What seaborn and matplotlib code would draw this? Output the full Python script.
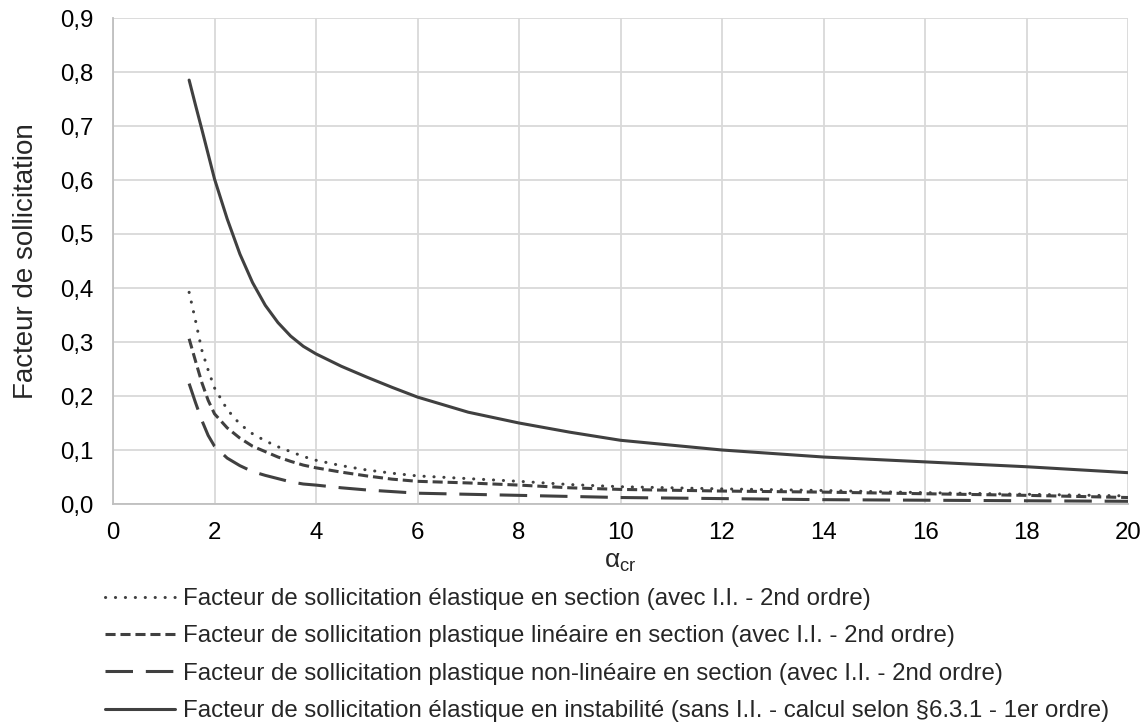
import matplotlib
matplotlib.use('Agg')
import matplotlib.pyplot as plt
import pandas as pd
import seaborn as sns
from matplotlib.ticker import FuncFormatter, MultipleLocator

# values
alpha_cr = [1.5, 1.625, 1.75, 1.875, 2, 2.25, 2.5, 2.75, 3, 3.25, 3.5, 3.75, 4,
            4.5, 5, 5.5, 6, 7, 8, 9, 10, 12, 14, 16, 18, 20]

elast_section = [0.392, 0.34, 0.285, 0.248, 0.215, 0.175, 0.148, 0.13, 0.117, 0.106, 0.097,
                 0.088, 0.081, 0.071, 0.063, 0.057, 0.052, 0.047, 0.042, 0.036, 0.032,
                 0.028, 0.025, 0.021, 0.018, 0.015]
plast_lin = [0.306, 0.265, 0.225, 0.192, 0.167, 0.141, 0.122, 0.107, 0.097, 0.087, 0.079,
             0.072, 0.067, 0.059, 0.052, 0.046, 0.042, 0.039, 0.035, 0.03, 0.027,
             0.024, 0.022, 0.019, 0.016, 0.012]
plast_nonlin = [0.223, 0.188, 0.155, 0.127, 0.107, 0.085, 0.071, 0.06, 0.053, 0.047, 0.041,
                0.037, 0.035, 0.03, 0.026, 0.023, 0.02, 0.018, 0.016, 0.014, 0.012,
                0.01, 0.008, 0.007, 0.006, 0.005]
elast_instab = [0.785, 0.739, 0.694, 0.648, 0.602, 0.528, 0.463, 0.41, 0.368, 0.336, 0.311,
                0.292, 0.278, 0.255, 0.235, 0.216, 0.198, 0.17, 0.15, 0.133, 0.118,
                0.1, 0.087, 0.078, 0.069, 0.058]

labels = [
    "Facteur de sollicitation élastique en section (avec I.I. - 2nd ordre)",
    "Facteur de sollicitation plastique linéaire en section (avec I.I. - 2nd ordre)",
    "Facteur de sollicitation plastique non-linéaire en section (avec I.I. - 2nd ordre)",
    "Facteur de sollicitation élastique en instabilité (sans I.I. - calcul selon §6.3.1 - 1er ordre)",
]

sns.set_style('white')
plt.rcParams['font.family'] = ['Liberation Sans', 'DejaVu Sans']
plt.rcParams['mathtext.fontset'] = 'custom'
plt.rcParams['mathtext.rm'] = 'Liberation Sans'
plt.rcParams['mathtext.it'] = 'Liberation Sans'

fs = 17.3

fig = plt.figure(figsize=(11.44, 7.26), dpi=100)
ax = fig.add_axes([113 / 1144, 1 - 504 / 726, (1128 - 113) / 1144, (504 - 18) / 726])

col = '#404040'
series = [elast_section, plast_lin, plast_nonlin, elast_instab]
styles = [(0, (0.05, 3.2)), (0, (3.3, 1.6)), (0, (9, 4.2)), '-']
caps = ['round', 'butt', 'butt', 'butt']
for vals, lab, ls, cap in zip(series, labels, styles, caps):
    df = pd.DataFrame({'alpha': alpha_cr, 'f': vals})
    sns.lineplot(data=df, x='alpha', y='f', ax=ax, color=col, lw=2.2, linestyle=ls,
                 label=lab, dash_capstyle=cap)

ax.set_xlim(0, 20)
ax.set_ylim(0, 0.9)
ax.xaxis.set_major_locator(MultipleLocator(2))
ax.yaxis.set_major_locator(MultipleLocator(0.1))
ax.yaxis.set_major_formatter(FuncFormatter(lambda v, p: f'{v:.1f}'.replace('.', ',')))
ax.grid(True, color='#d9d9d9', lw=1.3)
ax.set_axisbelow(True)
for s in ['top', 'right']:
    ax.spines[s].set_visible(False)
for s in ['left', 'bottom']:
    ax.spines[s].set_color('#bfbfbf')
    ax.spines[s].set_linewidth(1.3)
ax.tick_params(axis='both', length=0, labelsize=fs, colors='#000000')
ax.tick_params(axis='y', pad=14)
ax.tick_params(axis='x', pad=13)

ax.set_xlabel(r'$\alpha_{\mathrm{cr}}$', fontsize=19)
ax.xaxis.set_label_coords(0.5, -0.095)
ax.set_ylabel('Facteur de sollicitation', fontsize=20)
ax.yaxis.set_label_coords(-0.073, 0.5)

ax.get_legend().remove()
h, l = ax.get_legend_handles_labels()
fig.legend(h, l, loc='upper left', bbox_to_anchor=(105 / 1144, 1 - 588 / 726), frameon=False,
           fontsize=fs, handlelength=2.9, handletextpad=0.33, labelspacing=0.64, borderpad=0,
           borderaxespad=0)

fig.savefig('out.png', dpi=100)
